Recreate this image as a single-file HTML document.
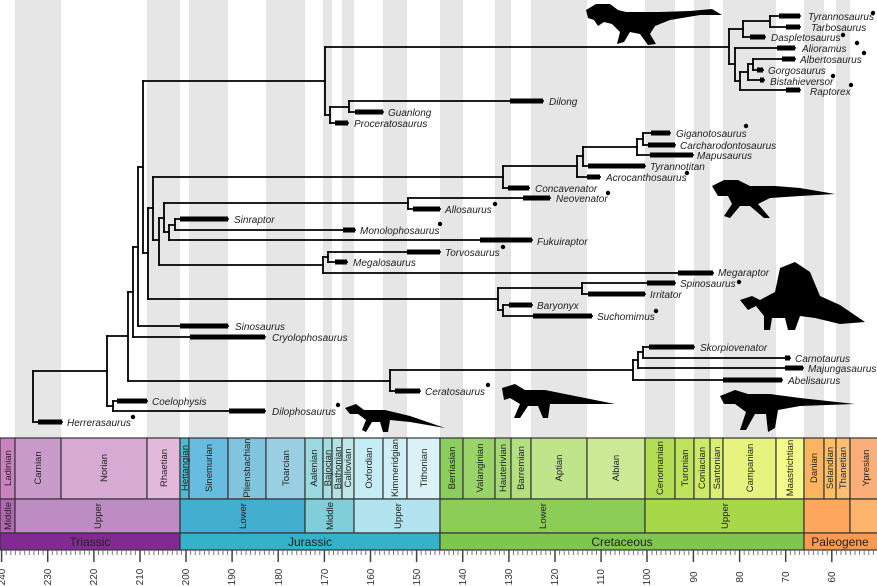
<!DOCTYPE html>
<html><head><meta charset="utf-8"><style>
html,body{margin:0;padding:0;background:#fff}
svg{display:block}
.l{font:italic 10px "Liberation Sans",sans-serif;fill:#222}
.s{font:9.5px "Liberation Sans",sans-serif;fill:#222}
.p{font:12px "Liberation Sans",sans-serif;fill:#222}
.t{font:10px "Liberation Sans",sans-serif;fill:#333}
</style></head><body>
<svg width="877" height="586" viewBox="0 0 877 586" xmlns="http://www.w3.org/2000/svg">
<g fill="#e6e6e6">
<rect x="15" y="0" width="46" height="438"/><rect x="147" y="0" width="33" height="438"/>
<rect x="189" y="0" width="39" height="438"/><rect x="266" y="0" width="39" height="438"/>
<rect x="323" y="0" width="9" height="438"/><rect x="342" y="0" width="12" height="438"/>
<rect x="383" y="0" width="24" height="438"/><rect x="440" y="0" width="23" height="438"/>
<rect x="495" y="0" width="16" height="438"/><rect x="531" y="0" width="56" height="438"/>
<rect x="645" y="0" width="30" height="438"/><rect x="694" y="0" width="16" height="438"/>
<rect x="723" y="0" width="53" height="438"/><rect x="804" y="0" width="20" height="438"/>
<rect x="836" y="0" width="14" height="438"/>
</g>
<!-- silhouettes -->
<g fill="#000">
<path d="M586 10 L596 4 L610 4 L618 10 L626 12 L640 12 L660 12 L690 11 L712 9 L722 15 L700 15 L670 20 L655 26 L650 34 L656 44 L648 45 L640 34 L630 32 L624 42 L617 44 L620 32 L612 24 L604 22 L598 26 L594 20 L588 18 Z"/>
<path d="M712 186 L724 180 L738 180 L750 186 L775 186 L800 188 L835 194 L800 196 L770 198 L758 204 L770 218 L764 218 L750 206 L740 206 L730 218 L724 216 L732 204 L728 196 L718 196 Z"/>
<path d="M740 300 L752 296 L760 300 L775 292 L780 268 L795 262 L810 272 L820 296 L840 305 L865 322 L840 324 L815 318 L800 316 L795 330 L788 330 L785 318 L772 318 L770 330 L764 330 L764 316 L756 306 L748 310 Z"/>
<path d="M502 388 L515 384 L525 390 L545 390 L575 396 L615 404 L575 404 L550 404 L548 418 L543 418 L538 406 L528 406 L520 418 L514 418 L520 404 L510 398 L504 400 Z"/>
<path d="M720 396 L735 390 L748 394 L770 394 L800 398 L855 404 L800 406 L778 410 L775 428 L768 432 L766 414 L755 414 L746 430 L740 430 L746 412 L735 404 L724 404 Z"/>
<path d="M345 408 L356 404 L364 410 L385 410 L410 416 L445 428 L410 422 L390 420 L388 432 L383 432 L380 422 L372 422 L366 432 L362 430 L366 420 L358 414 L350 414 Z"/>
</g>
<g stroke="#000" stroke-width="1.8" fill="none" stroke-linecap="square">
<path d="M33 371V422M107 336V406M113 401V411M128 292V381M133 247V337M138 167V326M143 81V253M148 208V299M153 177V240M159 218V265M164 203V232M169 225V240M175 219V230M325 47V115M330 107V123M349 101V112M729 29V64M743 21V37M770 16V27M735 48V81M740 72V90M748 64V80M753 59V70M503 166V188M577 156V177M583 147V166M637 139V155M643 133V145M408 198V209M323 257V273M328 252V262M498 288V310M582 283V294M503 305V316M390 370V391M633 360V380M638 352V368M643 347V358"/>
<path d="M33 422H62M33 371H107M107 336H128M107 406H113M113 401H147M113 411H265M128 292H133M128 381H390M133 247H138M133 337H265M138 167H143M138 326H228M143 81H325M143 253H148M148 208H153M148 299H498M153 177H503M153 240H159M159 218H164M159 265H323M164 203H408M164 232H169M169 225H175M169 240H532M175 219H228M175 230H355M325 47H729M325 115H330M330 107H349M330 123H348M349 101H543M349 112H383M729 29H743M729 64H735M743 21H770M743 37H765M770 16H800M770 27H800M735 48H795M735 81H740M740 72H748M740 90H800M748 64H753M748 80H764M753 59H795M753 70H763M503 166H577M503 188H529M577 156H583M577 177H600M583 147H637M583 166H645M637 139H643M637 155H693M643 133H670M643 145H675M408 198H550M408 209H440M323 257H328M323 273H713M328 252H440M328 262H347M498 288H582M498 310H503M582 283H675M582 294H645M503 305H532M503 316H592M390 370H633M390 391H420M633 360H638M633 380H782M638 352H643M638 368H803M643 347H694M643 358H790"/>
</g>
<g stroke="#000" stroke-width="5" fill="none">
<path d="M38 422H62M117 401H147M229 411H265M190 337H265M180 326H228M480 240H532M180 219H228M343 230H355M335 123H348M510 101H543M355 112H383M750 37H765M779 16H800M786 27H800M777 48H795M786 90H800M760 80H764M782 59H795M757 70H763M508 188H529M587 177H600M588 166H645M650 155H693M651 133H670M648 145H675M523 198H550M413 209H440M678 273H713M407 252H440M335 262H347M647 283H675M588 294H645M509 305H532M533 316H592M395 391H420M723 380H782M785 368H803M649 347H694M785 358H790"/>
</g>
<g class="l">
<text x="808" y="20">Tyrannosaurus</text><text x="811" y="31">Tarbosaurus</text><text x="771" y="41">Daspletosaurus</text><text x="802" y="52">Alioramus</text><text x="800" y="63">Albertosaurus</text><text x="768" y="74">Gorgosaurus</text><text x="770" y="85">Bistahieversor</text><text x="810" y="95">Raptorex</text><text x="549" y="105">Dilong</text><text x="388" y="116">Guanlong</text><text x="354" y="127">Proceratosaurus</text><text x="676" y="137">Giganotosaurus</text><text x="680" y="149">Carcharodontosaurus</text><text x="697" y="159">Mapusaurus</text><text x="650" y="170">Tyrannotitan</text><text x="606" y="181">Acrocanthosaurus</text><text x="535" y="192">Concavenator</text><text x="556" y="202">Neovenator</text><text x="445" y="213">Allosaurus</text><text x="234" y="223">Sinraptor</text><text x="360" y="234">Monolophosaurus</text><text x="537" y="245">Fukuiraptor</text><text x="445" y="256">Torvosaurus</text><text x="353" y="266">Megalosaurus</text><text x="718" y="276">Megaraptor</text><text x="680" y="287">Spinosaurus</text><text x="650" y="298">Irritator</text><text x="537" y="309">Baryonyx</text><text x="597" y="320">Suchomimus</text><text x="235" y="330">Sinosaurus</text><text x="272" y="341">Cryolophosaurus</text><text x="700" y="351">Skorpiovenator</text><text x="795" y="362">Carnotaurus</text><text x="808" y="372">Majungasaurus</text><text x="788" y="384">Abelisaurus</text><text x="425" y="395">Ceratosaurus</text><text x="152" y="405">Coelophysis</text><text x="272" y="415">Dilophosaurus</text><text x="67" y="426">Herrerasaurus</text>
</g>
<g fill="#000">
<circle cx="873" cy="13" r="2.2"/><circle cx="843" cy="35" r="2.2"/><circle cx="857" cy="43" r="2.2"/><circle cx="864" cy="53" r="2.2"/><circle cx="833" cy="76" r="2.2"/><circle cx="851" cy="85" r="2.2"/><circle cx="746" cy="126" r="2.2"/><circle cx="687" cy="173" r="2.2"/><circle cx="608" cy="193" r="2.2"/><circle cx="495" cy="204" r="2.2"/><circle cx="440" cy="224" r="2.2"/><circle cx="503" cy="247" r="2.2"/><circle cx="739" cy="282" r="2.2"/><circle cx="656" cy="311" r="2.2"/><circle cx="488" cy="385" r="2.2"/><circle cx="338" cy="405" r="2.2"/><circle cx="133" cy="417" r="2.2"/>
</g>
<!-- timescale -->
<g stroke="#333" stroke-width="1.2">
<rect x="0" y="438" width="15" height="61" fill="#c983bf"/><rect x="15" y="438" width="46" height="61" fill="#c99bcb"/><rect x="61" y="438" width="86" height="61" fill="#d6aad3"/><rect x="147" y="438" width="33" height="61" fill="#e3b9db"/>
<rect x="180" y="438" width="9" height="61" fill="#4ebad1"/><rect x="189" y="438" width="39" height="61" fill="#67bce0"/><rect x="228" y="438" width="38" height="61" fill="#80c5dd"/><rect x="266" y="438" width="39" height="61" fill="#99cee3"/><rect x="305" y="438" width="18" height="61" fill="#9ad9dd"/><rect x="323" y="438" width="9" height="61" fill="#a6dde0"/><rect x="332" y="438" width="10" height="61" fill="#b3e2e3"/><rect x="342" y="438" width="12" height="61" fill="#bfe7e5"/><rect x="354" y="438" width="29" height="61" fill="#c6ecf5"/><rect x="383" y="438" width="24" height="61" fill="#d0eef5"/><rect x="407" y="438" width="33" height="61" fill="#dcf2f8"/>
<rect x="440" y="438" width="23" height="61" fill="#8ccd60"/><rect x="463" y="438" width="32" height="61" fill="#99d36a"/><rect x="495" y="438" width="16" height="61" fill="#a6d975"/><rect x="511" y="438" width="20" height="61" fill="#b3df7f"/><rect x="531" y="438" width="56" height="61" fill="#bfe48a"/><rect x="587" y="438" width="58" height="61" fill="#cce995"/>
<rect x="645" y="438" width="30" height="61" fill="#b3de53"/><rect x="675" y="438" width="19" height="61" fill="#bfe35d"/><rect x="694" y="438" width="16" height="61" fill="#cce968"/><rect x="710" y="438" width="13" height="61" fill="#d9ef74"/><rect x="723" y="438" width="53" height="61" fill="#e6f47f"/><rect x="776" y="438" width="28" height="61" fill="#f2fa8c"/>
<rect x="804" y="438" width="20" height="61" fill="#fdb462"/><rect x="824" y="438" width="12" height="61" fill="#fdbf65"/><rect x="836" y="438" width="14" height="61" fill="#fdbf6f"/><rect x="850" y="438" width="30" height="61" fill="#fcae7a"/>
<rect x="0" y="499" width="15" height="34" fill="#b168b1"/><rect x="15" y="499" width="165" height="34" fill="#bd8cc3"/><rect x="180" y="499" width="125" height="34" fill="#42aed0"/><rect x="305" y="499" width="49" height="34" fill="#80cfd8"/><rect x="354" y="499" width="86" height="34" fill="#b3e3ee"/><rect x="440" y="499" width="205" height="34" fill="#8ccd57"/><rect x="645" y="499" width="159" height="34" fill="#a6d84a"/><rect x="804" y="499" width="46" height="34" fill="#fda75f"/><rect x="850" y="499" width="30" height="34" fill="#fdb46c"/>
<rect x="0" y="533" width="180" height="17" fill="#812b92"/><rect x="180" y="533" width="260" height="17" fill="#34b2c9"/><rect x="440" y="533" width="364" height="17" fill="#7fc64e"/><rect x="804" y="533" width="76" height="17" fill="#fd9a52"/>
</g>
<g class="s">
<text transform="translate(11,468) rotate(-90)" text-anchor="middle">Ladinian</text>
<text transform="translate(41,468) rotate(-90)" text-anchor="middle">Carnian</text>
<text transform="translate(107,468) rotate(-90)" text-anchor="middle">Norian</text>
<text transform="translate(167,468) rotate(-90)" text-anchor="middle">Rhaetian</text>
<text transform="translate(188,468) rotate(-90)" text-anchor="middle">Hettangian</text>
<text transform="translate(212,468) rotate(-90)" text-anchor="middle">Sinemurian</text>
<text transform="translate(250,468) rotate(-90)" text-anchor="middle">Pliensbachian</text>
<text transform="translate(289,468) rotate(-90)" text-anchor="middle">Toarcian</text>
<text transform="translate(317,468) rotate(-90)" text-anchor="middle">Aalenian</text>
<text transform="translate(331,468) rotate(-90)" text-anchor="middle">Bajocian</text>
<text transform="translate(341,468) rotate(-90)" text-anchor="middle">Bathonian</text>
<text transform="translate(351,468) rotate(-90)" text-anchor="middle">Callovian</text>
<text transform="translate(372,468) rotate(-90)" text-anchor="middle">Oxfordian</text>
<text transform="translate(398,468) rotate(-90)" text-anchor="middle">Kimmeridgian</text>
<text transform="translate(427,468) rotate(-90)" text-anchor="middle">Tithonian</text>
<text transform="translate(455,468) rotate(-90)" text-anchor="middle">Berriasian</text>
<text transform="translate(483,468) rotate(-90)" text-anchor="middle">Valanginian</text>
<text transform="translate(506,468) rotate(-90)" text-anchor="middle">Hauterivian</text>
<text transform="translate(524,468) rotate(-90)" text-anchor="middle">Barremian</text>
<text transform="translate(562,468) rotate(-90)" text-anchor="middle">Aptian</text>
<text transform="translate(619,468) rotate(-90)" text-anchor="middle">Albian</text>
<text transform="translate(663,468) rotate(-90)" text-anchor="middle">Cenomanian</text>
<text transform="translate(688,468) rotate(-90)" text-anchor="middle">Turonian</text>
<text transform="translate(705,468) rotate(-90)" text-anchor="middle">Coniacian</text>
<text transform="translate(720,468) rotate(-90)" text-anchor="middle">Santonian</text>
<text transform="translate(753,468) rotate(-90)" text-anchor="middle">Campanian</text>
<text transform="translate(793,468) rotate(-90)" text-anchor="middle">Maastrichtian</text>
<text transform="translate(817,468) rotate(-90)" text-anchor="middle">Danian</text>
<text transform="translate(833,468) rotate(-90)" text-anchor="middle">Selandian</text>
<text transform="translate(846,468) rotate(-90)" text-anchor="middle">Thanetian</text>
<text transform="translate(869,468) rotate(-90)" text-anchor="middle">Ypresian</text>
<text transform="translate(11,516) rotate(-90)" text-anchor="middle">Middle</text>
<text transform="translate(101,516) rotate(-90)" text-anchor="middle">Upper</text>
<text transform="translate(246,516) rotate(-90)" text-anchor="middle">Lower</text>
<text transform="translate(333,516) rotate(-90)" text-anchor="middle">Middle</text>
<text transform="translate(401,516) rotate(-90)" text-anchor="middle">Upper</text>
<text transform="translate(546,516) rotate(-90)" text-anchor="middle">Lower</text>
<text transform="translate(728,516) rotate(-90)" text-anchor="middle">Upper</text>
</g>
<g class="p" text-anchor="middle">
<text x="90" y="546">Triassic</text><text x="310" y="546">Jurassic</text><text x="622" y="546">Cretaceous</text><text x="840" y="546">Paleogene</text>
</g>
<g stroke="#777" stroke-width="1">
<path d="M1.6 550v5M6.2 550v5M10.8 550v5M15.4 550v5M20 550v5M24.7 550v5M29.3 550v5M33.9 550v5M38.5 550v5M43.1 550v5M52.3 550v5M57 550v5M61.6 550v5M66.2 550v5M70.8 550v5M75.4 550v5M80 550v5M84.6 550v5M89.3 550v5M98.5 550v5M103 550v5M107.7 550v5M112.3 550v5M117 550v5M121.6 550v5M126.2 550v5M130.8 550v5M135.4 550v5M144.6 550v5M149.2 550v5M153.9 550v5M158.5 550v5M163 550v5M167.7 550v5M172.3 550v5M177 550v5M181.4 550v5M190.6 550v5M195.2 550v5M199.8 550v5M204.4 550v5M209 550v5M213.7 550v5M218.3 550v5M223 550v5M227.5 550v5M236.7 550v5M241.3 550v5M246 550v5M250.6 550v5M255.2 550v5M259.8 550v5M264.4 550v5M269 550v5M273.6 550v5M282.8 550v5M287.4 550v5M292 550v5M296.7 550v5M301.3 550v5M306 550v5M310.5 550v5M315 550v5M319.8 550v5M329 550v5M333.5 550v5M338 550v5M342.8 550v5M347.4 550v5M352 550v5M356.6 550v5M361.2 550v5M365.8 550v5M375 550v5M379.7 550v5M384.3 550v5M389 550v5M393.5 550v5M398 550v5M402.8 550v5M407.4 550v5M412 550v5M421.2 550v5M425.8 550v5M430.4 550v5M435 550v5M439.7 550v5M444.3 550v5M449 550v5M453.5 550v5M458 550v5M467.3 550v5M472 550v5M476.5 550v5M481 550v5M485.8 550v5M490.4 550v5M495 550v5M499.6 550v5M504.2 550v5M513.4 550v5M518 550v5M522.7 550v5M527.3 550v5M532 550v5M536.5 550v5M541 550v5M545.8 550v5M550.4 550v5M559.6 550v5M564.2 550v5M568.8 550v5M573.4 550v5M578 550v5M582.7 550v5M587.3 550v5M592 550v5M596.5 550v5M605.8 550v5M610.4 550v5M615 550v5M619.6 550v5M624.2 550v5M628.8 550v5M633.4 550v5M638 550v5M642.7 550v5M652 550v5M656.5 550v5M661 550v5M665.8 550v5M670.4 550v5M675 550v5M679.6 550v5M684.2 550v5M688.8 550v5M698 550v5M702.7 550v5M707.3 550v5M712 550v5M716.5 550v5M721 550v5M725.8 550v5M730.4 550v5M735 550v5M744.2 550v5M748.8 550v5M753.4 550v5M758 550v5M762.7 550v5M767.3 550v5M772 550v5M776.5 550v5M781 550v5M790.4 550v5M795 550v5M799.6 550v5M804.2 550v5M808.8 550v5M813.4 550v5M818 550v5M822.7 550v5M827.3 550v5M836.5 550v5M841 550v5M845.8 550v5M850.4 550v5M855 550v5M859.6 550v5M864.2 550v5M868.8 550v5M873.4 550v5"/>
</g>
<g stroke="#444" stroke-width="1.5">
<path d="M1.6 550v12M47.7 550v12M93.9 550v12M140 550v12M186 550v12M232.1 550v12M278.2 550v12M324.4 550v12M370.5 550v12M416.6 550v12M462.7 550v12M508.9 550v12M555 550v12M601.1 550v12M647 550v12M693.4 550v12M739.6 550v12M785.7 550v12M831.8 550v12"/>
</g>
<g class="t" text-anchor="middle">
<text transform="translate(5,577) rotate(-90)">240</text><text transform="translate(51,577) rotate(-90)">230</text><text transform="translate(97,577) rotate(-90)">220</text><text transform="translate(143,577) rotate(-90)">210</text><text transform="translate(189,577) rotate(-90)">200</text><text transform="translate(235,577) rotate(-90)">190</text><text transform="translate(282,577) rotate(-90)">180</text><text transform="translate(328,577) rotate(-90)">170</text><text transform="translate(374,577) rotate(-90)">160</text><text transform="translate(420,577) rotate(-90)">150</text><text transform="translate(466,577) rotate(-90)">140</text><text transform="translate(512,577) rotate(-90)">130</text><text transform="translate(558,577) rotate(-90)">120</text><text transform="translate(604,577) rotate(-90)">110</text><text transform="translate(650,577) rotate(-90)">100</text><text transform="translate(697,577) rotate(-90)">90</text><text transform="translate(743,577) rotate(-90)">80</text><text transform="translate(789,577) rotate(-90)">70</text><text transform="translate(835,577) rotate(-90)">60</text>
</g>
</svg>
</body></html>
